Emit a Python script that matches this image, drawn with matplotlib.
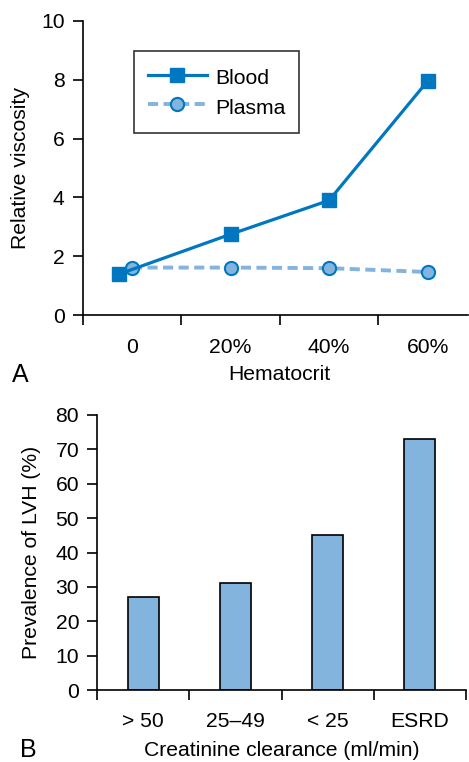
import matplotlib
matplotlib.use("Agg")
import matplotlib.pyplot as plt
from matplotlib.ticker import FixedLocator, NullFormatter

plt.rcParams['font.family'] = ['Liberation Sans', 'DejaVu Sans']

# Panel A: relative viscosity vs hematocrit
hematocrit_labels = ["0", "20%", "40%", "60%"]
blood_viscosity = [1.4, 2.75, 3.9, 7.95]
plasma_viscosity = [1.62, 1.62, 1.6, 1.47]

# Panel B: LVH prevalence by creatinine clearance
clearance_labels = ["> 50", "25\u201349", "< 25", "ESRD"]
lvh_prevalence = [27, 31, 45, 73]

BLUE = "#0077c0"
LIGHT = "#82b4dd"
FS = 15.2

W, H = 469, 762
fig = plt.figure(figsize=(W / 100, H / 100), dpi=100)


def px_axes(left, top, right, bottom):
    return fig.add_axes([left / W, 1 - bottom / H, (right - left) / W, (bottom - top) / H])


def style(ax):
    for s in ("top", "right"):
        ax.spines[s].set_visible(False)
    for s in ("left", "bottom"):
        ax.spines[s].set_linewidth(1.2)
    ax.tick_params(axis="both", which="major", direction="out", length=7, width=1.2,
                   labelsize=FS, pad=6)
    ax.tick_params(axis="x", which="minor", length=0, labelsize=FS, pad=16)


def place_labels(ax, xl, yl):
    ax.xaxis.set_label_coords(*xl)
    ax.xaxis.label.set_va("center")
    ax.yaxis.set_label_coords(*yl)
    ax.yaxis.label.set_va("center")


# ---- Panel A ----
axA = px_axes(82.7, 20.7, 468, 315.3)
style(axA)
pos = [i + 0.5 for i in range(len(hematocrit_labels))]
blood_x = list(pos)
blood_x[0] -= 0.13  # nudge first square so it sits beside the plasma circle
axA.plot(pos, plasma_viscosity, color=LIGHT, lw=2.8, ls=(0, (2.6, 1.4)),
         marker="o", ms=9.5, mfc=LIGHT, mec=BLUE, mew=1.5, label="Plasma", zorder=2)
axA.plot(blood_x, blood_viscosity, color=BLUE, lw=2.3, marker="s", ms=10.5,
         mfc=BLUE, mec=BLUE, label="Blood", zorder=3)
axA.set_xlim(0, 3.91)
axA.set_ylim(0, 10)
axA.set_yticks([0, 2, 4, 6, 8, 10])
axA.xaxis.set_major_locator(FixedLocator([0, 1, 2, 3]))
axA.xaxis.set_major_formatter(NullFormatter())
axA.xaxis.set_minor_locator(FixedLocator(pos))
axA.set_xticklabels(hematocrit_labels, minor=True)
axA.set_ylabel("Relative viscosity", fontsize=FS)
axA.set_xlabel("Hematocrit", fontsize=FS)
place_labels(axA, (2 / 3.91, (315.3 - 375) / 294.6), ((20 - 82.7) / 385.3, 0.5))
h, l = axA.get_legend_handles_labels()
leg = axA.legend(h[::-1], l[::-1], loc="upper left", bbox_to_anchor=(0.133, 0.897),
                 borderaxespad=0, fontsize=FS, frameon=True, fancybox=False,
                 edgecolor="black", handlelength=2.8, handleheight=1.45,
                 borderpad=0.65, labelspacing=0.2, handletextpad=0.4)
leg.get_frame().set_linewidth(1.2)
fig.text(20 / W, 1 - 375 / H, "A", fontsize=18, ha="center", va="center")

# ---- Panel B ----
axB = px_axes(97.3, 415, 465.7, 690)
style(axB)
bpos = [i + 0.5 for i in range(len(clearance_labels))]
axB.bar(bpos, lvh_prevalence, width=0.33, color=LIGHT, edgecolor="black", linewidth=1.2)
axB.set_xlim(0, 4)
axB.set_ylim(0, 80)
axB.set_yticks(range(0, 81, 10))
axB.xaxis.set_major_locator(FixedLocator([0, 1, 2, 3, 4]))
axB.xaxis.set_major_formatter(NullFormatter())
axB.xaxis.set_minor_locator(FixedLocator(bpos))
axB.set_xticklabels(clearance_labels, minor=True)
axB.set_ylabel("Prevalence of LVH (%)", fontsize=FS)
axB.set_xlabel("Creatinine clearance (ml/min)", fontsize=FS)
place_labels(axB, (0.5, (690 - 750) / 275), ((31.7 - 97.3) / 368.4, 0.5))
fig.text(28 / W, 1 - 750 / H, "B", fontsize=18, ha="center", va="center")

fig.savefig("out.png", dpi=100)
